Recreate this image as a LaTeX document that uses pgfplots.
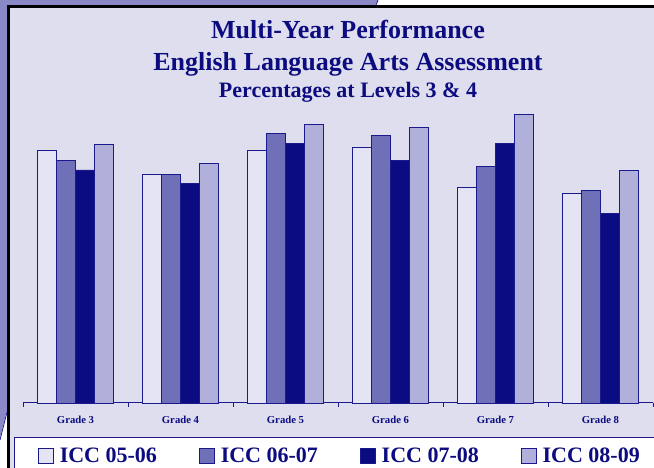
\documentclass[border=0pt]{standalone}
\usepackage{pgfplots}
\pgfplotsset{compat=1.18}
\usepackage{fontspec}
\setmainfont{Liberation Serif}
\definecolor{navy}{HTML}{0C0C80}
\definecolor{edge}{HTML}{1A1A8C}
\definecolor{bg}{HTML}{DEDEEE}
\definecolor{lav}{HTML}{8A88C6}
\definecolor{cA}{HTML}{E4E4F4}
\definecolor{cB}{HTML}{7070B8}
\definecolor{cC}{HTML}{0C0C82}
\definecolor{cD}{HTML}{B0B0DA}
\begin{document}
\begin{tikzpicture}[x=1pt,y=1pt]
\useasboundingbox (0,0) rectangle (654,468);
\clip (0,0) rectangle (654,468);
\fill[white] (0,0) rectangle (654,468);
\fill[lav] (0,468) -- (378,468) -- (374,460) -- (7,460) -- (7,58) -- (0,30) -- cycle;
\draw[edge, line width=0.8pt] (8,60) -- (0,28);
\draw[edge, line width=0.8pt] (378,468) -- (372,452);
\fill[bg] (9,0) rectangle (654,460);
\fill[black] (7,460) rectangle (654,462.5);
\fill[black] (7,0) rectangle (9.5,462.5);
\draw[edge, fill=white, line width=1pt] (14,-5) rectangle (660,30);
\node[anchor=base, font=\fontsize{26}{26}\selectfont\bfseries, text=navy, inner sep=0pt] at (348,429) {Multi-Year Performance};
\node[anchor=base, font=\fontsize{26}{26}\selectfont\bfseries, text=navy, inner sep=0pt] at (348,397) {English Language Arts Assessment};
\node[anchor=base, font=\fontsize{22}{22}\selectfont\bfseries, text=navy, inner sep=0pt] at (348,370) {Percentages at Levels 3 \& 4};
\begin{axis}[
  at={(23pt,65pt)}, anchor=south west,
  scale only axis, width=630pt, height=300pt,
  ymin=0, ymax=100, xmin=-0.5, xmax=5.5,
  ybar=0pt, bar width=19pt,
  axis y line=none, axis x line=bottom,
  x axis line style={-, draw=edge, line width=1pt},
  xtick={-0.5,0.5,1.5,2.5,3.5,4.5,5.5},
  x tick label as interval,
  xticklabels={Grade 3,Grade 4,Grade 5,Grade 6,Grade 7,Grade 8},
  tick align=outside, major tick length=4pt,
  x tick style={draw=edge, line width=0.8pt},
  xticklabel style={font=\fontsize{10.7}{12}\selectfont\bfseries, text=navy, yshift=-6pt},
  clip=false,
  legend columns=4,
  legend image code/.code={\draw[#1, draw=edge, line width=0.8pt] (0pt,-7.5pt) rectangle (15pt,7.5pt);},
  legend style={at={(axis description cs:0.0238,-0.175)}, anchor=west, draw=none, fill=none,
    inner sep=0pt, outer sep=0pt, nodes={inner sep=0pt},
    font=\fontsize{22}{22}\selectfont\bfseries, text=navy,
    /tikz/every odd column/.append style={column sep=6pt},
    /tikz/every even column/.append style={column sep=42pt}},
]
\addplot[fill=cA, draw=edge, line width=0.6pt] coordinates {(0,84.1) (1,76.3) (2,84.1) (3,85.3) (4,71.9) (5,69.8)};
\addplot[fill=cB, draw=edge, line width=0.6pt] coordinates {(0,80.8) (1,76.3) (2,89.8) (3,89.2) (4,78.9) (5,70.8)};
\addplot[fill=cC, draw=edge, line width=0.6pt] coordinates {(0,77.7) (1,73.3) (2,86.6) (3,80.8) (4,86.4) (5,63.3)};
\addplot[fill=cD, draw=edge, line width=0.6pt] coordinates {(0,86.3) (1,79.8) (2,92.9) (3,91.9) (4,96.3) (5,77.6)};
\legend{ICC 05-06, ICC 06-07, ICC 07-08, ICC 08-09}
\end{axis}
\end{tikzpicture}
\end{document}
